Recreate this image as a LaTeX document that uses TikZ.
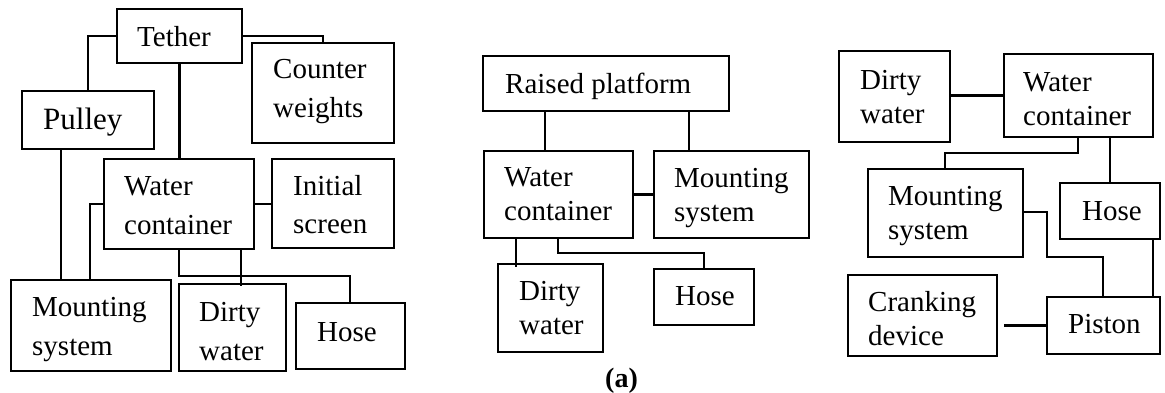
\documentclass[tikz,border=0pt]{standalone}
\usepackage{fontspec}
\setmainfont{Liberation Serif}
\newcommand\mytwo[2]{\vtop{\hbox{#1}\hbox{#2}}}
\begin{document}
\begin{tikzpicture}[x=1pt,y=-1pt,
  box/.style={draw,line width=1.2pt,rectangle,inner sep=0pt,outer sep=0pt,anchor=north west},
  conn/.style={line width=2.6pt},
  txta/.style={inner sep=0pt,anchor=base west,font=\fontsize{29}{39}\selectfont},
  txtb/.style={inner sep=0pt,anchor=base west,font=\fontsize{29}{34}\selectfont}]
\useasboundingbox (0,0) rectangle (1165,393);
% ---------- panel 1 ----------
\node[box,minimum width=125pt,minimum height=54pt] (tether) at (117,9) {};
\node[box,minimum width=142pt,minimum height=100pt] (cw) at (252,43) {};
\node[box,minimum width=132pt,minimum height=58pt] (pulley) at (22,91) {};
\node[box,minimum width=150pt,minimum height=90pt] (wc1) at (104,159) {};
\node[box,minimum width=122pt,minimum height=89pt] (is) at (272,159) {};
\node[box,minimum width=160pt,minimum height=91pt] (ms1) at (11,280) {};
\node[box,minimum width=107pt,minimum height=87pt] (dw1) at (179,284) {};
\node[box,minimum width=109pt,minimum height=66pt] (hose1) at (296,303) {};
\node[txta] (t-tether) at (137,47) {Tether};
\node[txta] (t-cw) at (273,79) {\mytwo{Counter}{weights}};
\node[txta,font=\fontsize{31}{39}\selectfont] (t-pulley) at (43,130) {Pulley};
\node[txta] (t-wc1) at (124,196) {\mytwo{Water}{container}};
\node[txta] (t-is) at (293,195) {\mytwo{Initial}{screen}};
\node[txta] (t-ms1) at (32,316) {\mytwo{Mounting}{system}};
\node[txta] (t-dw1) at (199,321) {\mytwo{Dirty}{water}};
\node[txta] (t-hose1) at (317,341) {Hose};
\draw[conn] (tether.west) -| (pulley.north -| 88,0);
\draw[conn] (tether.east) -| (cw.north -| 323,0);
\draw[conn] (tether.south) -- (tether.south |- wc1.north);
\draw[conn] (pulley.south -| 61,0) -- (ms1.north -| 61,0);
\draw[conn] (wc1.west) -| (ms1.north -| 90,0);
\draw[conn] (wc1.east) -- (wc1.east -| is.west);
\draw[conn] (wc1.south -| 179,0) |- (350,276) -- (hose1.north -| 350,0);
\draw[conn,shorten >=-2pt] (wc1.south -| 241,0) -- (dw1.north -| 241,0);
% ---------- panel 2 ----------
\node[box,minimum width=246pt,minimum height=55pt] (rp) at (483,56) {};
\node[box,minimum width=149pt,minimum height=87pt] (wc2) at (484,151) {};
\node[box,minimum width=155pt,minimum height=87pt] (ms2) at (654,151) {};
\node[box,minimum width=105pt,minimum height=88pt] (dw2) at (498,264) {};
\node[box,minimum width=100pt,minimum height=56pt] (hose2) at (654,269) {};
\node[txtb] (t-rp) at (505,94) {Raised platform};
\node[txtb] (t-wc2) at (504,186) {\mytwo{Water}{container}};
\node[txtb] (t-ms2) at (674,188) {\mytwo{Mounting}{system}};
\node[txtb] (t-dw2) at (519,300) {\mytwo{Dirty}{water}};
\node[txtb] (t-hose2) at (675,305) {Hose};
\node[inner sep=0pt,anchor=base,font=\fontsize{28}{30}\selectfont\bfseries] (cap) at (621.5,387) {(a)};
\draw[conn] (rp.south -| 545,0) -- (wc2.north -| 545,0);
\draw[conn] (rp.south -| 689,0) -- (ms2.north -| 689,0);
\draw[conn] (wc2.east) -- (wc2.east -| ms2.west);
\draw[conn,shorten >=-3pt] (wc2.south -| 516,0) -- (dw2.north -| 516,0);
\draw[conn] (wc2.south -| 558,0) |- (704,253) -- (hose2.north -| 704,0);
% ---------- panel 3 ----------
\node[box,minimum width=111pt,minimum height=91pt] (dw3) at (839,51) {};
\node[box,minimum width=149pt,minimum height=83pt] (wc3) at (1004,54) {};
\node[box,minimum width=155pt,minimum height=88pt] (ms3) at (868,169) {};
\node[box,minimum width=100pt,minimum height=56pt] (hose3) at (1060,183) {};
\node[box,minimum width=149pt,minimum height=81pt] (cd) at (848,275) {};
\node[box,minimum width=113pt,minimum height=57pt] (piston) at (1047,297) {};
\node[txtb] (t-dw3) at (860,90) {\mytwo{Dirty}{water}};
\node[txtb] (t-wc3) at (1023,92) {\mytwo{Water}{container}};
\node[txtb] (t-ms3) at (888,205) {\mytwo{Mounting}{system}};
\node[txtb] (t-hose3) at (1082,220) {Hose};
\node[txtb] (t-cd) at (868,311) {\mytwo{Cranking}{device}};
\node[txtb] (t-piston) at (1068,333) {Piston};
\draw[conn] (wc3.west) -- (wc3.west -| dw3.east);
\draw[conn] (wc3.south -| 1078,0) |- (945,153) -- (ms3.north -| 945,0);
\draw[conn] (wc3.south -| 1110,0) -- (hose3.north -| 1110,0);
\draw[conn] (ms3.east |- 0,212) -| (1047,257) -| (piston.north -| 1103,0);
\draw[conn] (hose3.south -| 1153,0) -- (piston.north -| 1153,0);
\draw[conn,shorten >=7pt] (piston.west) -- (piston.west -| cd.east);
\end{tikzpicture}
\end{document}
